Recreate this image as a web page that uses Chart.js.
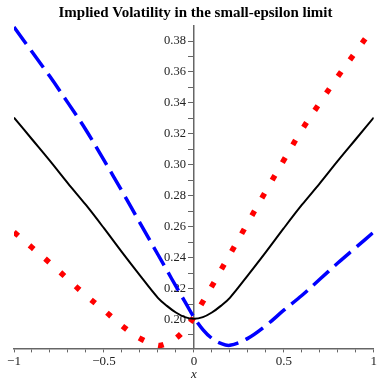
<!DOCTYPE html>
<html>
<head>
<meta charset="utf-8">
<script src="https://cdn.jsdelivr.net/npm/chart.js@4/dist/chart.umd.min.js"></script>
<style>
  html, body { margin: 0; padding: 0; background: #fff; }
  #wrap { width: 378px; height: 381px; }
</style>
</head>
<body>
<div id="wrap"><canvas id="graph--vol" width="378" height="381"></canvas></div>
<script>
const xs = [-1, -0.9, -0.8, -0.7, -0.6, -0.5, -0.4, -0.3, -0.2, -0.15, -0.1, -0.05, 0,
  0.05, 0.1, 0.15, 0.2, 0.3, 0.4, 0.5, 0.6, 0.7, 0.8, 0.9, 1]
// black solid curve
const solidVol = [0.3305, 0.3165, 0.3025, 0.288, 0.274, 0.259, 0.2435, 0.2285, 0.214, 0.2088, 0.2045, 0.2015, 0.2004,
  0.2015, 0.2045, 0.2088, 0.214, 0.2285, 0.2435, 0.259, 0.274, 0.288, 0.3025, 0.3165, 0.3305]
// blue dashed curve
const dashVol = [0.389, 0.373, 0.357, 0.340, 0.3225, 0.303, 0.283, 0.2625, 0.242, 0.2318, 0.2215, 0.2115, 0.2015,
  0.1935, 0.1878, 0.1845, 0.1833, 0.1878, 0.196, 0.206, 0.2155, 0.226, 0.2365, 0.2465, 0.2565]
// red dotted curve
const dotVol = [0.2565, 0.2465, 0.2365, 0.226, 0.2155, 0.206, 0.196, 0.1878, 0.1833, 0.1845, 0.1878, 0.1935, 0.2015,
  0.2115, 0.2215, 0.2318, 0.242, 0.2625, 0.283, 0.303, 0.3225, 0.340, 0.357, 0.373, 0.389]

// axis ticks
const xTicks = [-1, -0.9, -0.8, -0.7, -0.6, -0.5, -0.4, -0.3, -0.2, -0.1, 0, 0.1, 0.2, 0.3, 0.4, 0.5, 0.6, 0.7, 0.8, 0.9, 1]
const xLabels = {'-1': '\u22121', '-0.5': '\u22120.5', '0': '0', '0.5': '0.5', '1': '1'}
const yTicks = [0.19, 0.20, 0.21, 0.22, 0.23, 0.24, 0.25, 0.26, 0.27, 0.28, 0.29, 0.30, 0.31, 0.32, 0.33, 0.34, 0.35, 0.36, 0.37, 0.38]
const yLabels = ['0.20', '0.22', '0.24', '0.26', '0.28', '0.30', '0.32', '0.34', '0.36', '0.38']

const pts = ys => xs.map((x, i) => ({x: x, y: ys[i]}))
const serif = 'Liberation Serif, Times New Roman, serif'

new Chart(document.querySelector('#graph--vol'), {
  type: 'line',
  data: {
    datasets: [
      {
        data: pts(solidVol),
        borderColor: '#000000',
        borderWidth: 2,
        pointRadius: 0,
        tension: 0.35
      },
      {
        data: pts(dashVol),
        borderColor: '#0000ff',
        borderWidth: 3.5,
        borderDash: [21, 8],
        pointRadius: 0,
        tension: 0.35
      },
      {
        data: pts(dotVol),
        borderColor: '#ff0000',
        borderWidth: 5.5,
        borderDash: [5.5, 15],
        pointRadius: 0,
        tension: 0.35
      }
    ]
  },
  options: {
    responsive: false,
    animation: false,
    layout: { autoPadding: false, padding: { left: 14, right: 1, top: 0, bottom: 0 } },
    plugins: {
      legend: { display: false },
      tooltip: { enabled: false },
      title: {
        display: true,
        text: 'Implied Volatility in the small-epsilon limit',
        color: '#000',
        font: { family: serif, size: 15, weight: 'bold', lineHeight: 1.2 },
        padding: { top: 4, bottom: 4 }
      }
    },
    scales: {
      x: {
        type: 'linear',
        min: -1,
        max: 1,
        afterBuildTicks: s => { s.ticks = xTicks.map(v => ({value: v})) },
        grid: { drawOnChartArea: false, tickLength: 4, color: '#666' },
        border: { color: '#666', width: 1.5 },
        ticks: {
          autoSkip: false,
          maxRotation: 0,
          padding: 1,
          color: '#222',
          font: { family: serif, size: 13, lineHeight: 1.2 },
          callback: v => xLabels[String(Math.round(v * 10) / 10)] || ''
        },
        title: {
          display: true,
          text: 'x',
          color: '#222',
          padding: { top: -2, bottom: 0 },
          font: { family: serif, size: 13, style: 'italic', lineHeight: 1 }
        }
      },
      y: {
        type: 'linear',
        // x runs from -1 to 1, so the centre of the plot is x = 0
        position: 'center',
        min: 0.1813,
        max: 0.3897,
        afterBuildTicks: s => { s.ticks = yTicks.map(v => ({value: v})) },
        grid: { drawOnChartArea: false, tickLength: 5, color: '#666' },
        border: { color: '#666', width: 1.5 },
        ticks: {
          autoSkip: false,
          padding: 3,
          color: '#222',
          font: { family: serif, size: 12.5 },
          callback: v => {
            const s = v.toFixed(2)
            return yLabels.includes(s) ? s : ''
          }
        }
      }
    }
  }
})
</script>
</body>
</html>
